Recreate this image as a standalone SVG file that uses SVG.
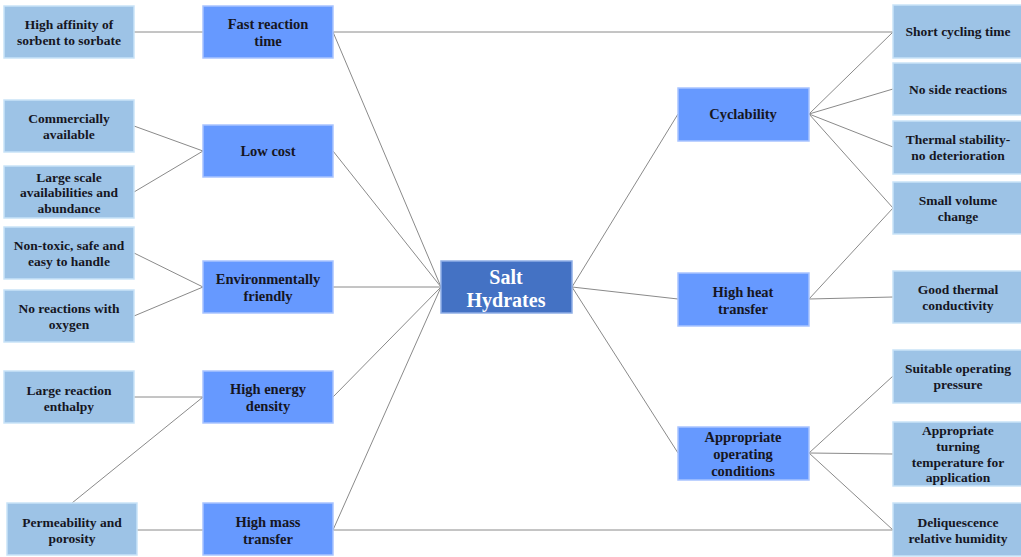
<svg xmlns="http://www.w3.org/2000/svg" width="1021" height="557" viewBox="0 0 1021 557">
<defs>
<style>
.leaf rect.b{fill:#9DC3E6;stroke:#C9E3F8;stroke-width:1.5}
.mid rect.b{fill:#6699FF;stroke:#A9C4FF;stroke-width:1.5}
.ctr rect.b{fill:#4472C4;stroke:#8FAEE6;stroke-width:1.5}
text{font-family:"Liberation Serif","Times New Roman",serif;font-weight:bold;font-size:13.5px;fill:#16161f;text-anchor:middle}
.mid text{font-size:14.5px}
.ctr text{font-size:20px;fill:#ffffff}
.conn line{stroke:#8a8a8a;stroke-width:1}
</style>
</defs>
<rect width="1021" height="557" fill="#ffffff"/>
<g class="conn">
<line x1="134" y1="32" x2="203" y2="32"/>
<line x1="134" y1="126" x2="203" y2="151"/>
<line x1="134" y1="192" x2="203" y2="151"/>
<line x1="134" y1="253" x2="203" y2="287"/>
<line x1="134" y1="316" x2="203" y2="287"/>
<line x1="134" y1="397" x2="203" y2="397"/>
<line x1="72" y1="503" x2="203" y2="397"/>
<line x1="137" y1="530" x2="203" y2="530"/>
<line x1="333" y1="32" x2="441" y2="287"/>
<line x1="333" y1="151" x2="441" y2="287"/>
<line x1="333" y1="287" x2="441" y2="287"/>
<line x1="333" y1="397" x2="441" y2="287"/>
<line x1="333" y1="530" x2="441" y2="287"/>
<line x1="333" y1="32" x2="893" y2="32"/>
<line x1="333" y1="530" x2="893" y2="530"/>
<line x1="572" y1="287" x2="678" y2="114"/>
<line x1="572" y1="287" x2="678" y2="299"/>
<line x1="572" y1="287" x2="678" y2="453"/>
<line x1="809" y1="114" x2="893" y2="32"/>
<line x1="809" y1="114" x2="893" y2="89"/>
<line x1="809" y1="114" x2="893" y2="147"/>
<line x1="809" y1="114" x2="893" y2="208"/>
<line x1="809" y1="299" x2="893" y2="208"/>
<line x1="809" y1="299" x2="893" y2="297"/>
<line x1="809" y1="453" x2="893" y2="376"/>
<line x1="809" y1="453" x2="893" y2="454"/>
<line x1="809" y1="453" x2="893" y2="530"/>
</g>

<g id="n-affinity" class="leaf"><rect class="b" x="4" y="6" width="130" height="52"/><text x="69" y="29">High affinity of</text><text x="69" y="45">sorbent to sorbate</text></g>
<g id="n-commercial" class="leaf"><rect class="b" x="4" y="100" width="130" height="52"/><text x="69" y="123">Commercially</text><text x="69" y="139">available</text></g>
<g id="n-largescale" class="leaf"><rect class="b" x="4" y="166" width="130" height="52"/><text x="69" y="182">Large scale</text><text x="69" y="197">availabilities and</text><text x="69" y="213">abundance</text></g>
<g id="n-nontoxic" class="leaf"><rect class="b" x="4" y="227" width="130" height="52"/><text x="69" y="250">Non-toxic, safe and</text><text x="69" y="266">easy to handle</text></g>
<g id="n-oxygen" class="leaf"><rect class="b" x="4" y="290" width="130" height="52"/><text x="69" y="313">No reactions with</text><text x="69" y="329">oxygen</text></g>
<g id="n-enthalpy" class="leaf"><rect class="b" x="4" y="371" width="130" height="52"/><text x="69" y="395">Large reaction</text><text x="69" y="411">enthalpy</text></g>
<g id="n-permeability" class="leaf"><rect class="b" x="7" y="503" width="130" height="52"/><text x="72" y="527">Permeability and</text><text x="72" y="543">porosity</text></g>

<g id="n-fast" class="mid"><rect class="b" x="203" y="6" width="130" height="52"/><text x="268" y="29">Fast reaction</text><text x="268" y="46">time</text></g>
<g id="n-lowcost" class="mid"><rect class="b" x="203" y="125" width="130" height="52"/><text x="268" y="156">Low cost</text></g>
<g id="n-env" class="mid"><rect class="b" x="203" y="261" width="130" height="52"/><text x="268" y="284">Environmentally</text><text x="268" y="301">friendly</text></g>
<g id="n-energy" class="mid"><rect class="b" x="203" y="371" width="130" height="52"/><text x="268" y="394">High energy</text><text x="268" y="411">density</text></g>
<g id="n-mass" class="mid"><rect class="b" x="203" y="503" width="130" height="52"/><text x="268" y="527">High mass</text><text x="268" y="544">transfer</text></g>

<g id="n-salt" class="ctr"><rect class="b" x="441" y="261" width="131" height="52"/><text x="506" y="284">Salt</text><text x="506" y="307">Hydrates</text></g>

<g id="n-cyclability" class="mid"><rect class="b" x="678" y="88" width="131" height="53"/><text x="743" y="119">Cyclability</text></g>
<g id="n-heat" class="mid"><rect class="b" x="678" y="273" width="131" height="53"/><text x="743" y="297">High heat</text><text x="743" y="314">transfer</text></g>
<g id="n-operating" class="mid"><rect class="b" x="678" y="427" width="131" height="53"/><text x="743" y="442">Appropriate</text><text x="743" y="459">operating</text><text x="743" y="476">conditions</text></g>

<g id="n-short" class="leaf"><rect class="b" x="893" y="5" width="132" height="53"/><text x="958" y="36">Short cycling time</text></g>
<g id="n-noside" class="leaf"><rect class="b" x="893" y="63" width="132" height="52"/><text x="958" y="94">No side reactions</text></g>
<g id="n-thermal" class="leaf"><rect class="b" x="893" y="121" width="132" height="53"/><text x="958" y="144">Thermal stability-</text><text x="958" y="160">no deterioration</text></g>
<g id="n-volume" class="leaf"><rect class="b" x="893" y="182" width="132" height="52"/><text x="958" y="205">Small volume</text><text x="958" y="221">change</text></g>
<g id="n-conductivity" class="leaf"><rect class="b" x="893" y="271" width="132" height="52"/><text x="958" y="294">Good thermal</text><text x="958" y="310">conductivity</text></g>
<g id="n-pressure" class="leaf"><rect class="b" x="893" y="350" width="132" height="53"/><text x="958" y="373">Suitable operating</text><text x="958" y="389">pressure</text></g>
<g id="n-temperature" class="leaf"><rect class="b" x="893" y="422" width="132" height="64"/><text x="958" y="435">Appropriate</text><text x="958" y="451">turning</text><text x="958" y="467">temperature for</text><text x="958" y="482">application</text></g>
<g id="n-humidity" class="leaf"><rect class="b" x="893" y="503" width="132" height="53"/><text x="958" y="527">Deliquescence</text><text x="958" y="543">relative humidity</text></g>
</svg>
